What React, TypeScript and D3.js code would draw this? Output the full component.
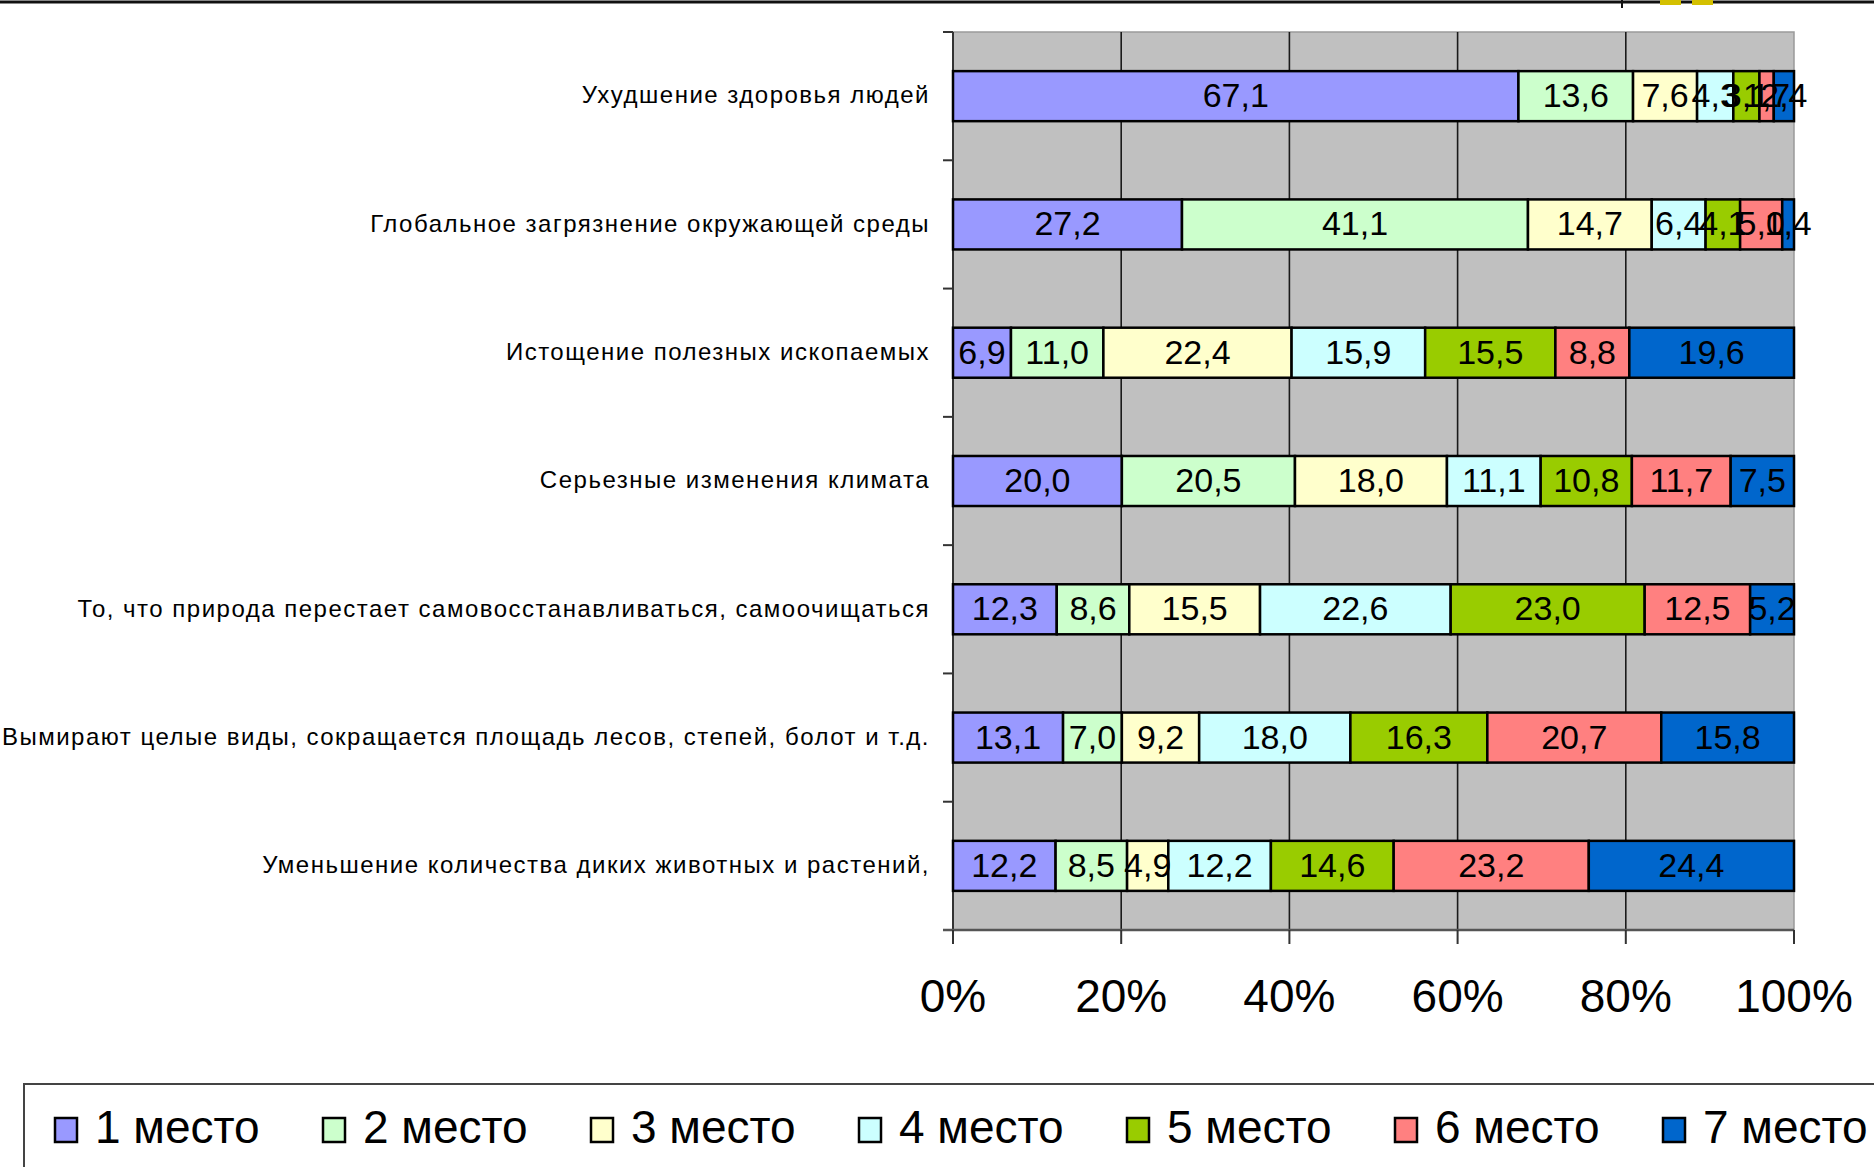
import React from "react";
import * as d3 from "d3";

const categories = [
  "Ухудшение здоровья людей",
  "Глобальное загрязнение окружающей среды",
  "Истощение полезных ископаемых",
  "Серьезные изменения климата",
  "То, что природа перестает самовосстанавливаться, самоочищаться",
  "Вымирают целые виды, сокращается площадь лесов, степей, болот и т.д.",
  "Уменьшение количества диких животных и растений,",
];
const seriesNames = ["1 место", "2 место", "3 место", "4 место", "5 место", "6 место", "7 место"];
const place1 = [67.1, 27.2, 6.9, 20.0, 12.3, 13.1, 12.2];
const place2 = [13.6, 41.1, 11.0, 20.5, 8.6, 7.0, 8.5];
const place3 = [7.6, 14.7, 22.4, 18.0, 15.5, 9.2, 4.9];
const place4 = [4.3, 6.4, 15.9, 11.1, 22.6, 18.0, 12.2];
const place5 = [3.1, 4.1, 15.5, 10.8, 23.0, 16.3, 14.6];
const place6 = [1.7, 5.0, 8.8, 11.7, 12.5, 20.7, 23.2];
const place7 = [2.4, 1.4, 19.6, 7.5, 5.2, 15.8, 24.4];
const tickLabels = ["0%", "20%", "40%", "60%", "80%", "100%"];
const colors = ["#9999FF", "#CCFFCC", "#FFFFCC", "#CCFFFF", "#99CC00", "#FF8080", "#0066CC"];

const W = 1874;
const H = 1167;
const FONT = "'Liberation Sans', Arial, sans-serif";

export default function App() {
  const allSeries = [place1, place2, place3, place4, place5, place6, place7];
  const rows = categories.map((c, i) => {
    const r: any = { cat: c };
    seriesNames.forEach((s, j) => (r[s] = allSeries[j][i]));
    return r;
  });
  const stack = d3.stack<any>().keys(seriesNames).offset(d3.stackOffsetExpand);
  const stacked = stack(rows);

  const x = d3.scaleLinear().domain([0, 1]).range([953, 1794]);
  const y = d3
    .scaleBand<string>()
    .domain(categories)
    .range([32, 930])
    .paddingInner(0.61)
    .paddingOuter(0.305);
  const step = y.step();
  const ticks = d3.range(0, 1.0001, 0.2);
  const fmt = (v: number) => v.toFixed(1).replace(".", ",");

  return (
    <svg
      width={W}
      height={H}
      style={{ position: "absolute", left: 0, top: 0, background: "#fff" }}
      fontFamily={FONT}
    >
      {/* top slide artifacts */}
      <line x1={0} x2={W} y1={2} y2={2} stroke="#111" strokeWidth={3} />
      <line x1={1622} x2={1622} y1={0} y2={8} stroke="#111" strokeWidth={2} />
      <rect x={1660} y={0} width={21} height={5} fill="#D4C000" />
      <rect x={1692} y={0} width={21} height={5} fill="#D4C000" />

      {/* plot background */}
      <rect x={x(0)} y={32} width={x(1) - x(0)} height={930 - 32} fill="#C0C0C0" stroke="#9a9a9a" strokeWidth={1.5} />
      {ticks.slice(1, -1).map((t, i) => (
        <line key={i} x1={x(t)} x2={x(t)} y1={32} y2={930} stroke="#1a1a1a" strokeWidth={1.6} />
      ))}

      {/* left axis */}
      <line x1={x(0)} x2={x(0)} y1={32} y2={930} stroke="#333" strokeWidth={2} />
      {d3.range(categories.length + 1).map((k) => (
        <line key={k} x1={943} x2={x(0)} y1={32 + k * step} y2={32 + k * step} stroke="#333" strokeWidth={2} />
      ))}
      {/* bottom axis */}
      <line x1={943} x2={x(1)} y1={930} y2={930} stroke="#555" strokeWidth={2.5} />
      {ticks.map((t, i) => (
        <line key={i} x1={x(t)} x2={x(t)} y1={930} y2={944} stroke="#333" strokeWidth={2} />
      ))}
      {ticks.map((t, i) => (
        <text key={i} x={x(t)} y={1000} fontSize={46} textAnchor="middle" dominantBaseline="middle" fill="#000">
          {tickLabels[i]}
        </text>
      ))}

      {/* bars */}
      {stacked.map((s, si) =>
        s.map((d, di) => (
          <rect
            key={si + "-" + di}
            x={x(d[0])}
            y={y(categories[di])!}
            width={x(d[1]) - x(d[0])}
            height={y.bandwidth()}
            fill={colors[si]}
            stroke="#000"
            strokeWidth={2.5}
          />
        ))
      )}
      {stacked.map((s, si) =>
        s.map((d, di) => (
          <text
            key={"t" + si + "-" + di}
            x={(x(d[0]) + x(d[1])) / 2}
            y={y(categories[di])! + y.bandwidth() / 2 + 2}
            fontSize={34}
            textAnchor="middle"
            dominantBaseline="middle"
            fill="#000"
          >
            {fmt(allSeries[si][di])}
          </text>
        ))
      )}

      {/* category labels */}
      {categories.map((c, i) => (
        <text
          key={c}
          x={930}
          y={y(c)! + y.bandwidth() / 2 + 1}
          fontSize={24}
          letterSpacing={1.5}
          textAnchor="end"
          dominantBaseline="middle"
          fill="#000"
        >
          {c}
        </text>
      ))}

      {/* legend */}
      <rect x={24} y={1084} width={1900} height={120} fill="#fff" stroke="#444" strokeWidth={2} />
      {seriesNames.map((s, i) => (
        <g key={s} transform={`translate(${55 + i * 268},0)`}>
          <rect x={0} y={1118} width={22} height={24} fill={colors[i]} stroke="#000" strokeWidth={2.5} />
          <text x={40} y={1131} fontSize={46} dominantBaseline="middle" fill="#000">
            {s}
          </text>
        </g>
      ))}
    </svg>
  );
}
